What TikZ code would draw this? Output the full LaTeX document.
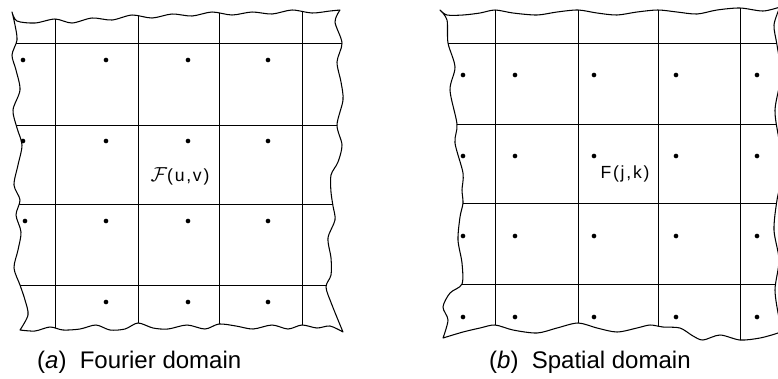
\documentclass[tikz,border=0pt]{standalone}
\usepackage{fontspec}
\setsansfont{Liberation Sans}
\newfontfamily\gridfont[LetterSpace=10]{Liberation Sans}
\usepackage{tikz}

\begin{document}
\begin{tikzpicture}[x=0.03cm, y=-0.03cm,
    rim/.style={line width=0.9pt, line join=round, line cap=round},
    gridline/.style={line width=0.85pt},
    valtext/.style={font=\gridfont\fontsize{15}{15}\selectfont, inner sep=0pt},
    subcap/.style={font=\sffamily\fontsize{20.5}{22}\selectfont, anchor=base west, inner sep=0pt},
]
\useasboundingbox (0,0) rectangle (778,378);

% (a) Fourier domain
\begin{scope}[rim]
  \draw[clip]
    plot[smooth] coordinates {(12,12) (17,21) (35,23) (55,19) (72,23) (92,18) (112,20) (132,15) (152,18) (172,14) (192,16) (212,12) (232,15) (252,12) (272,14) (292,10) (312,13) (330,11) (340,10)}
    -- plot[smooth] coordinates {(340,10) (335,22) (342,43) (337,62) (341,82) (343,100) (337,125) (342,145) (338,162) (331,175) (331,192) (333,206) (335,220) (328,238) (331,258) (331,275) (326,287) (332,305) (343,332)}
    -- plot[smooth] coordinates {(343,332) (330,326) (317,328) (302,325) (288,329) (272,325) (253,329) (236,326) (219,324) (205,329) (187,325) (168,329) (153,328) (138,323) (125,329) (110,330) (96,325) (80,329) (63,330) (50,327) (35,331) (20,330)}
    -- plot[smooth] coordinates {(20,330) (28,315) (25,300) (20,285) (14,268) (18,250) (21,232) (16,215) (20,200) (14,185) (18,165) (22,145) (17,128) (13,110) (20,90) (16,70) (12,55) (17,40) (15,25) (12,12)}
    -- cycle;
  \foreach \x in {55,138,219,302}
    \draw[gridline] (\x,0) -- (\x,345);
  \foreach \y in {43,125,204,285}
    \draw[gridline] (0,\y) -- (350,\y);
\end{scope}
\foreach \x/\y in {23/60,106/60,188/60,268/60, 23/141,106/141,188/141,268/141,
                   25/221,106/221,188/221,268/221, 106/302,188/302,268/302}
  \fill (\x,\y) circle[radius=2pt];
\node[valtext] (fuv) at (180,176) {\scalebox{1.2}{$\mathcal{F}$}(u,v)};
\node[subcap] (capa) at (37,368) {(\textit{a})\hspace{0.55em}Fourier domain};

% (b) Spatial domain
\begin{scope}[rim]
  \draw[clip]
    plot[smooth] coordinates {(440,10) (447,15) (463,15) (480,13) (495,10) (513,13) (537,15) (557,12) (578,10) (597,13) (617,15) (637,12) (658,10) (677,12) (697,14) (717,10) (740,8) (763,11) (780,7)}
    -- plot[smooth] coordinates {(780,7) (774,25) (777,45) (781,75) (775,110) (779,140) (783,170) (777,200) (774,230) (779,260) (775,290) (779,318) (782,330)}
    -- plot[smooth] coordinates {(782,330) (778,333) (760,338) (740,340) (720,335) (703,340) (693,336) (680,328) (663,327) (650,325) (637,328) (617,332) (597,328) (578,323) (557,328) (537,333) (513,330) (495,325) (480,328) (463,332) (443,338)}
    -- plot[smooth] coordinates {(443,338) (448,320) (443,307) (450,293) (462,284) (462,263) (458,240) (460,217) (463,203) (462,190) (463,173) (455,143) (457,124) (450,90) (455,67) (448,43) (447,20) (440,10)}
    -- cycle;
  \foreach \x in {495,578,658,740}
    \draw[gridline] (\x,0) -- (\x,345);
  \foreach \y in {43,124,203,284}
    \draw[gridline] (430,\y) -- (790,\y);
\end{scope}
\foreach \y in {75,156,236,317}
  \foreach \x in {463,515,594,676,757}
    \fill (\x,\y) circle[radius=2pt];
\node[valtext] (fjk) at (625,174) {F(j,k)};
\node[subcap] (capb) at (489,368) {(\textit{b})\hspace{0.55em}Spatial domain};

\end{tikzpicture}
\end{document}
